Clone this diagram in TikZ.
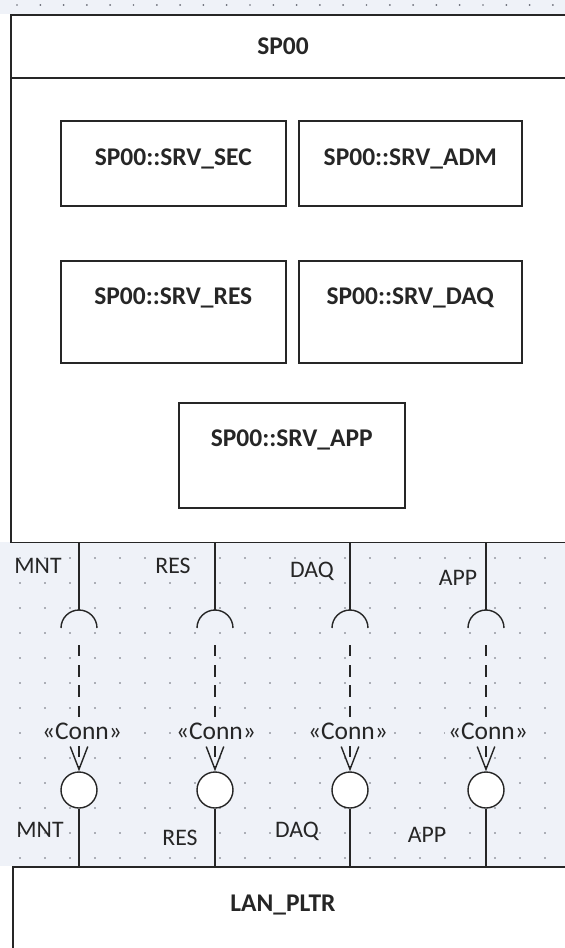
\documentclass[tikz,border=0pt]{standalone}
\usepackage{fontspec}
\setmainfont{Carlito}
\usetikzlibrary{positioning,arrows.meta}
\definecolor{gridbg}{RGB}{239,242,248}
\definecolor{griddot}{RGB}{105,108,118}
\definecolor{edge}{RGB}{38,38,38}
\tikzset{
  compbox/.style={draw=edge,line width=0.9pt,fill=white,anchor=north west,inner sep=0pt},
  partbox/.style={draw=edge,line width=0.9pt,fill=white,anchor=north west,inner sep=0pt},
  title/.style={font=\fontsize{14.5}{17}\selectfont\bfseries,text=black!85},
  port/.style={font=\fontsize{13.5}{16}\selectfont,text=black!85,inner sep=1pt},
  stereo/.style={font=\fontsize{14.5}{17}\selectfont,text=black!85,fill=gridbg,inner sep=2pt},
  wire/.style={draw=edge,line width=0.8pt},
  dep/.style={draw=edge,line width=0.8pt,dash pattern=on 6.5pt off 5pt,
              -{Straight Barb[length=13pt,width=10pt]}},
  lolli/.style={circle,draw=edge,line width=0.8pt,fill=white,minimum size=0.72cm,inner sep=0pt},
}
\begin{document}
\begin{tikzpicture}[x=0.02cm,y=-0.02cm]
  \path[use as bounding box] (0,0) rectangle (565,948);
  \clip (0,0) rectangle (565,948);
  \fill[white] (0,0) rectangle (565,948);
  \fill[gridbg] (0,0) rectangle (565,14);
  \fill[gridbg] (0,542) rectangle (565,866);
  \foreach \gx in {0,...,23}
    \fill[griddot] (17+23.3*\gx,5) circle[radius=0.55pt];
  \foreach \gx in {0,...,21}
    \foreach \gy in {0,...,12}
      \fill[griddot] (20+25*\gx,558+25*\gy) circle[radius=0.55pt];

  % component SP00 and its parts
  \node[compbox,minimum width=12cm,minimum height=10.56cm] (sp) at (10,14) {};
  \coordinate (hd) at (0,78);
  \draw[wire] (sp.west |- hd) -- (sp.east |- hd);
  \node[title] (sptitle) at (283,46) {SP00};

  \node[partbox,minimum width=4.5cm,minimum height=1.7cm] (sec) at (60,120) {};
  \node[partbox,minimum width=4.46cm,minimum height=1.7cm] (adm) at (298,120) {};
  \node[partbox,minimum width=4.5cm,minimum height=2.04cm] (res) at (60,260) {};
  \node[partbox,minimum width=4.46cm,minimum height=2.04cm] (daq) at (298,260) {};
  \node[partbox,minimum width=4.52cm,minimum height=2.1cm] (app) at (178,402) {};
  \node[title] (sect) at ([yshift=-0.78cm]sec.north) {SP00::SRV\_SEC};
  \node[title] (admt) at ([yshift=-0.78cm]adm.north) {SP00::SRV\_ADM};
  \node[title] (rest) at ([yshift=-0.76cm]res.north) {SP00::SRV\_RES};
  \node[title] (daqt) at ([yshift=-0.76cm]daq.north) {SP00::SRV\_DAQ};
  \node[title] (appt) at ([yshift=-0.76cm]app.north) {SP00::SRV\_APP};

  % LAN_PLTR
  \node[compbox,minimum width=12cm,minimum height=2cm] (lan) at (12,866) {};
  \node[title] (lant) at (283,905) {LAN\_PLTR};

  % sockets, dependencies and lollipops
  \coordinate (sk1) at (79,610);
  \coordinate (sk2) at (215,610);
  \coordinate (sk3) at (350,610);
  \coordinate (sk4) at (486,610);
  \coordinate (dp1) at (79,645);
  \coordinate (dp2) at (215,645);
  \coordinate (dp3) at (350,645);
  \coordinate (dp4) at (486,645);
  \node[lolli] (lp1) at (79,790) {};
  \node[lolli] (lp2) at (215,790) {};
  \node[lolli] (lp3) at (350,790) {};
  \node[lolli] (lp4) at (486,790) {};

  \draw[wire] (sk1 |- sp.south) -- (sk1);
  \draw[wire] (sk2 |- sp.south) -- (sk2);
  \draw[wire] (sk3 |- sp.south) -- (sk3);
  \draw[wire] (sk4 |- sp.south) -- (sk4);
  \draw[wire] (sk1) ++(-18,18) arc[start angle=180,end angle=0,radius=0.36cm];
  \draw[wire] (sk2) ++(-18,18) arc[start angle=180,end angle=0,radius=0.36cm];
  \draw[wire] (sk3) ++(-18,18) arc[start angle=180,end angle=0,radius=0.36cm];
  \draw[wire] (sk4) ++(-18,18) arc[start angle=180,end angle=0,radius=0.36cm];

  \draw[dep] (dp1) -- (lp1);
  \draw[dep] (dp2) -- (lp2);
  \draw[dep] (dp3) -- (lp3);
  \draw[dep] (dp4) -- (lp4);
  \node[stereo] (cn1) at (82,731) {«Conn»};
  \node[stereo] (cn2) at (216,731) {«Conn»};
  \node[stereo] (cn3) at (348,731) {«Conn»};
  \node[stereo] (cn4) at (488,731) {«Conn»};

  \draw[wire] (lp1) -- (lp1 |- lan.north);
  \draw[wire] (lp2) -- (lp2 |- lan.north);
  \draw[wire] (lp3) -- (lp3 |- lan.north);
  \draw[wire] (lp4) -- (lp4 |- lan.north);

  % port names
  \node[port] (pmnt) at (38,566) {MNT};
  \node[port] (pres) at (173,566) {RES};
  \node[port] (pdaq) at (312,571) {DAQ};
  \node[port] (papp) at (458,578) {APP};
  \node[port] (qmnt) at (40,830) {MNT};
  \node[port] (qres) at (180,838) {RES};
  \node[port] (qdaq) at (297,831) {DAQ};
  \node[port] (qapp) at (427,835) {APP};
\end{tikzpicture}
\end{document}
